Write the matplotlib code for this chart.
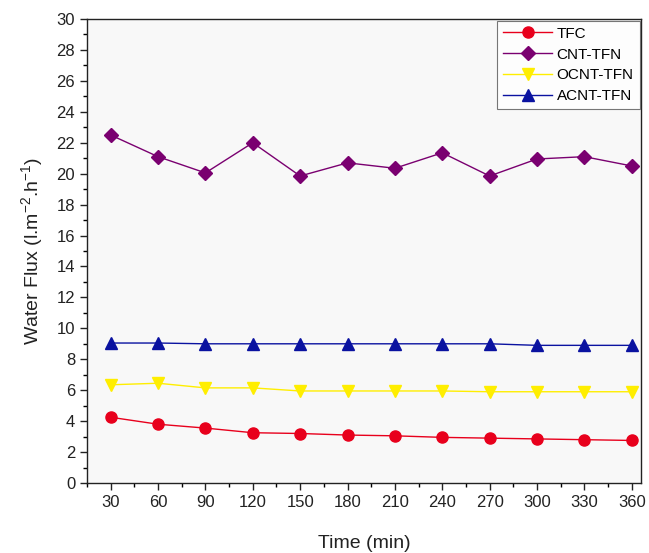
import matplotlib
matplotlib.use("Agg")
import matplotlib.pyplot as plt
from matplotlib.ticker import MultipleLocator

plt.rcParams['font.family'] = ['Liberation Sans', 'DejaVu Sans']
plt.rcParams['mathtext.fontset'] = 'custom'
plt.rcParams['mathtext.rm'] = 'Liberation Sans'
plt.rcParams['mathtext.it'] = 'Liberation Sans'

time = [30, 60, 90, 120, 150, 180, 210, 240, 270, 300, 330, 360]
tfc = [4.25, 3.8, 3.55, 3.25, 3.2, 3.1, 3.05, 2.95, 2.9, 2.85, 2.8, 2.75]
cnt_tfn = [22.5, 21.1, 20.05, 22.0, 19.85, 20.7, 20.35, 21.35, 19.85, 20.95, 21.1, 20.5]
ocnt_tfn = [6.35, 6.45, 6.15, 6.15, 5.95, 5.95, 5.95, 5.95, 5.9, 5.9, 5.9, 5.9]
acnt_tfn = [9.05, 9.05, 9.0, 9.0, 9.0, 9.0, 9.0, 9.0, 9.0, 8.9, 8.9, 8.9]

fig = plt.figure(figsize=(6.49, 5.53), dpi=100)
ax = fig.add_axes([0.134, 0.1266, 0.854, 0.839])
ax.set_facecolor('#f8f8f8')

ax.plot(time, tfc, color='#e8001c', marker='o', markersize=8, lw=1.0, label='TFC')
ax.plot(time, cnt_tfn, color='#7a0070', marker='D', markersize=7.5, lw=1.0, label='CNT-TFN')
ax.plot(time, ocnt_tfn, color='#ffee00', marker='v', markersize=8.5, lw=1.0, label='OCNT-TFN')
ax.plot(time, acnt_tfn, color='#0a12a0', marker='^', markersize=8.5, lw=1.0, label='ACNT-TFN')

ax.set_xlim(15, 366)
ax.set_ylim(0, 30)
ax.set_xticks(time)
ax.xaxis.set_minor_locator(MultipleLocator(15))
ax.yaxis.set_major_locator(MultipleLocator(2))
ax.yaxis.set_minor_locator(MultipleLocator(1))
ax.tick_params(which='major', direction='out', length=5, width=1, labelsize=12, colors='#222222')
ax.tick_params(which='minor', direction='out', length=3, width=1)
for s in ax.spines.values():
    s.set_linewidth(1.0)
    s.set_color('#222222')

ax.set_xlabel('Time (min)', fontsize=14, labelpad=18, color='#222222')
ax.set_ylabel('Water Flux (l.m$^{-2}$.h$^{-1}$)', fontsize=14, labelpad=8, color='#222222')

leg = ax.legend(loc='upper right', fontsize=11, frameon=True, fancybox=False,
                edgecolor='#555555', borderaxespad=0.1, handlelength=3.2,
                labelspacing=0.45, handletextpad=0.3, borderpad=0.4)
leg.get_frame().set_linewidth(0.8)

fig.savefig('out.png', dpi=100, facecolor='white')
